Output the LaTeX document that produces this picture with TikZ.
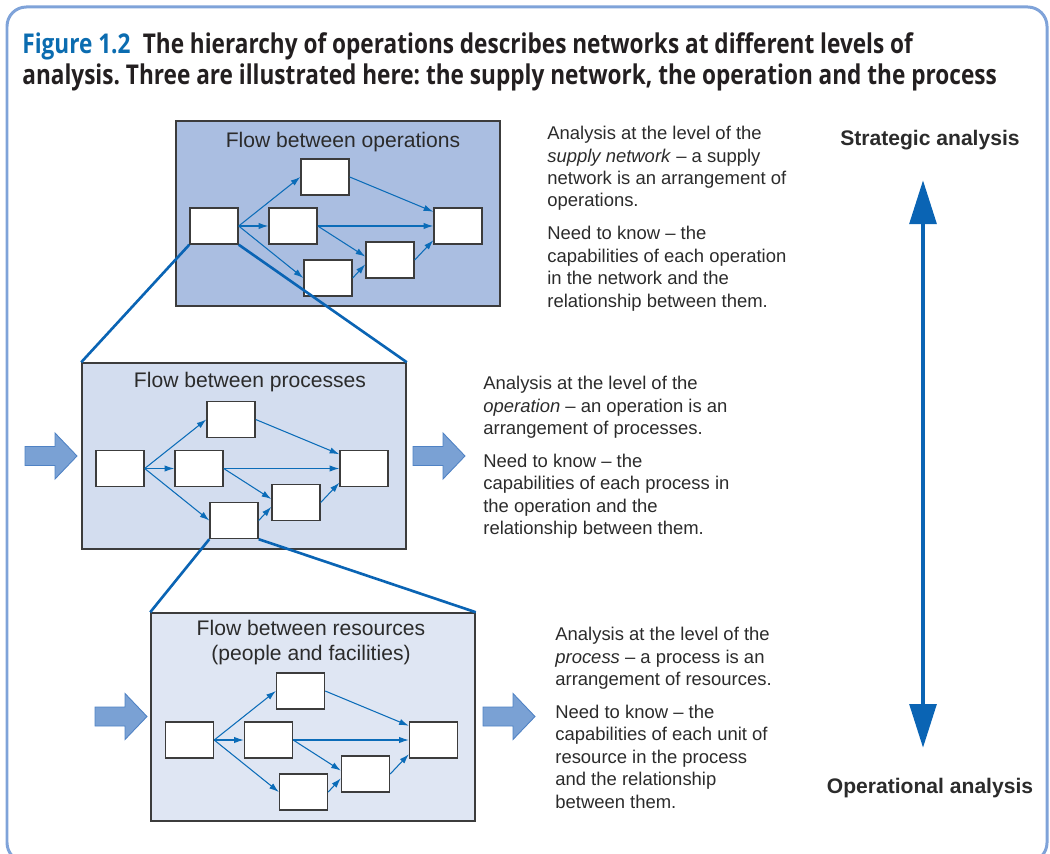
\documentclass[tikz,border=0pt]{standalone}
\usepackage{fontspec}
\setmainfont{Liberation Sans}
\newfontfamily\titlefont[FakeStretch=0.83]{Open Sans}
\usetikzlibrary{arrows.meta,positioning,calc}
\definecolor{figblue}{HTML}{0B6CB0}
\definecolor{titledark}{HTML}{231F20}
\definecolor{textgray}{HTML}{2B2B2B}
\definecolor{edgegray}{HTML}{3C3C3C}
\definecolor{framec}{HTML}{7FA3D9}
\definecolor{flowblue}{HTML}{0B6CB8}
\definecolor{zoomblue}{HTML}{0A64B4}
\definecolor{panelA}{HTML}{AABEE1}
\definecolor{panelB}{HTML}{D3DDEF}
\definecolor{panelC}{HTML}{DFE6F3}
\definecolor{fatfill}{HTML}{7AA1D4}
\definecolor{fatedge}{HTML}{4F82C4}
\frenchspacing
\tikzset{
  >={Latex[length=5.5pt,width=3.6pt]},
  % rahmen
  frame/.style={draw=framec,line width=1.7pt,rounded corners=11pt},
  panel/.style={draw=edgegray,line width=0.9pt,inner sep=0pt,minimum width=6.48cm},
  bx/.style={draw=edgegray,fill=white,line width=0.8pt,inner sep=0pt,
             minimum width=0.96cm,minimum height=0.72cm},
  fl/.style={->,draw=flowblue,line width=0.6pt},
  zoomln/.style={draw=zoomblue,line width=1.5pt},
  % texte
  head/.style={font=\fontsize{12}{14.2}\selectfont,text=textgray,align=center,inner sep=0pt},
  note/.style={font=\fontsize{10.5}{12.75}\selectfont,text=textgray,align=left,
               anchor=north west,inner sep=0pt},
  level/.style={font=\fontsize{12}{14}\selectfont\bfseries,text=textgray,inner sep=0pt},
  % pfeile
  fat/.style={fill=fatfill,draw=fatedge,line width=0.5pt},
  fatarrow/.pic={\draw[fat] (0,-9.5) -- (30,-9.5) -- (30,-23) -- (52,0) -- (30,23)
                 -- (30,9.5) -- (0,9.5) -- cycle;},
  updown/.style={draw=zoomblue,line width=2.8pt,
                 {Triangle[length=25pt,width=15pt]}-{Triangle[length=25pt,width=15pt]}},
}

\begin{document}
\begin{tikzpicture}[x=0.02cm,y=-0.02cm]
  \useasboundingbox (0,0) rectangle (1050,854);
  \clip (0,0) rectangle (1050,854);
  \draw[frame] (7,7) rectangle (1047,862);
  \node[anchor=north west,inner sep=0pt,align=left,text=titledark,
        font=\titlefont\bfseries\fontsize{15.5}{17.6}\selectfont] (title) at (22,32)
    {\textcolor{figblue}{Figure 1.2}\hspace{0.45em}The hierarchy of operations describes networks at different levels of\\
     analysis. Three are illustrated here: the supply network, the operation and the process};
  % die drei ebenen
  \node[panel,fill=panelA,minimum height=3.70cm] (top) at (338,213.5) {};
  \node[panel,fill=panelB,minimum height=3.72cm] (mid) at (244,456) {};
  \node[panel,fill=panelC,minimum height=4.16cm] (bot) at (313,717) {};
  \node[head] (thead) at (343,142) {Flow between operations};
  \node[head] (mhead) at (250,382) {Flow between processes};
  \node[head] (bhead) at (311,643) {Flow between resources\\(people and facilities)};
  \foreach \p/\x/\y in {t/214/226, m/120/468.5, r/189.5/740} {
    \begin{scope}[shift={(\x,\y)},name prefix=\p-]
      \node[bx] (a) at (0,0) {};
      \node[bx] (b) at (111,-49) {};
      \node[bx] (c) at (79,0) {};
      \node[bx] (d) at (114,52) {};
      \node[bx] (e) at (176,34) {};
      \node[bx] (f) at (244,0) {};
      \draw[fl] (a.east) -- (b.west);
      \draw[fl] (a.east) -- (c.west);
      \draw[fl] (a.east) -- (d.west);
      \draw[fl] (b.east) -- (f.150);
      \draw[fl] (c.east) -- (f.west);
      \draw[fl] (c.east) -- (e.172);
      \draw[fl] (d.east) -- (e.190);
      \draw[fl] (e.east) -- (f.210);
    \end{scope}
  }
  \draw[zoomln] (t-a.south west) -- (mid.north west);
  \draw[zoomln] (t-a.south east) -- (mid.north east);
  \draw[zoomln] (m-d.south west) -- (bot.north west);
  \draw[zoomln] (m-d.south east) -- (bot.north east);
  \pic at (25,456) {fatarrow};
  \pic at (413,456) {fatarrow};
  \pic at (95,716.5) {fatarrow};
  \pic at (483,716.5) {fatarrow};
  % erklaerungen
  \node[note] (tnote) at (547,126) {Analysis at the level of the\\
    \textit{supply network} -- a supply\\ network is an arrangement of\\ operations.\\[6pt]
    Need to know -- the\\ capabilities of each operation\\ in the network and the\\
    relationship between them.};
  \node[note] (mnote) at (483,376) {Analysis at the level of the\\
    \textit{operation} -- an operation is an\\ arrangement of processes.\\[6pt]
    Need to know -- the\\ capabilities of each process in\\ the operation and the\\
    relationship between them.};
  \node[note] (bnote) at (555,627) {Analysis at the level of the\\
    \textit{process} -- a process is an\\ arrangement of resources.\\[6pt]
    Need to know -- the\\ capabilities of each unit of\\ resource in the process\\
    and the relationship\\ between them.};
  \node[level] (strat) at (930,140) {Strategic analysis};
  \node[level] (oper) at (930,788) {Operational analysis};
  \draw[updown,shorten <=17pt,shorten >=17pt] ([xshift=-0.14cm]strat.south) -- ([xshift=-0.14cm]oper.north);
\end{tikzpicture}
\end{document}
